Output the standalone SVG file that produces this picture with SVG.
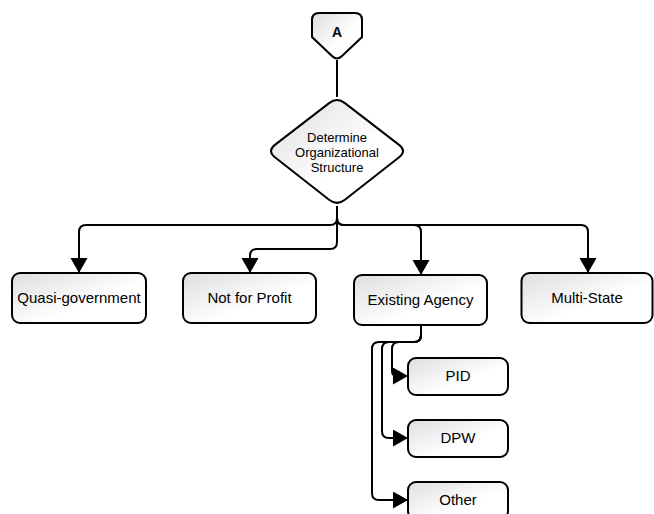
<svg xmlns="http://www.w3.org/2000/svg" width="654" height="514" viewBox="0 0 654 514">
<style>
.node{stroke:#000;stroke-width:2;fill:url(#g)}
.lbl{font-family:"Liberation Sans",Arial,sans-serif;font-size:15px;fill:#000;text-anchor:middle}
.dlbl{font-family:"Liberation Sans",Arial,sans-serif;font-size:13px;fill:#000;text-anchor:middle}
.conn{fill:none;stroke:#000;stroke-width:2}
.arr{marker-end:url(#ah)}
</style>
<defs>
<linearGradient id="g" x1="0" y1="0" x2="1" y2="1">
<stop offset="0" stop-color="#dedede"/>
<stop offset="0.6" stop-color="#ffffff"/>
<stop offset="1" stop-color="#ffffff"/>
</linearGradient>
<marker id="ah" markerUnits="userSpaceOnUse" markerWidth="16" markerHeight="18" refX="15" refY="8.5" orient="auto">
<path d="M0,0 L15,8.5 L0,17 z" fill="#000"/>
</marker>
</defs>
<rect width="654" height="514" fill="#fff"/>
<g id="connectors">
<path class="conn" d="M337,60 V97"/>
<path class="conn arr" d="M337,206 V218 Q337,225 330,225 H86 Q79,225 79,232 V273"/>
<path class="conn arr" d="M337,206 V242 Q337,249 330,249 H257 Q250,249 250,256 V273"/>
<path class="conn arr" d="M337,206 V218 Q337,225 344,225 H414 Q421,225 421,232 V275"/>
<path class="conn arr" d="M337,206 V218 Q337,225 344,225 H581 Q588,225 588,232 V273"/>
<path class="conn arr" d="M421,325 V335 Q421,342 414,342 H399 Q392,342 392,349 V371 Q392,376 397,376 H408"/>
<path class="conn arr" d="M421,325 V335 Q421,342 414,342 H389 Q382,342 382,349 V431 Q382,438 389,438 H408"/>
<path class="conn arr" d="M421,325 V335 Q421,342 414,342 H379 Q372,342 372,349 V493 Q372,500 379,500 H408"/>
</g>
<g id="nodeA">
<path class="node" d="M312,20 Q312,13 319,13 H355 Q362,13 362,20 V37 L342,56 Q337,61 332,56 L312,37 Z"/>
<text x="337" y="37" class="lbl" style="font-weight:bold;font-size:14px">A</text>
</g>
<g id="decision">
<path class="node" d="M329.1,103.1 Q337,97 344.9,103.1 L399.1,144.9 Q407,151 399.1,157.2 L344.9,199.8 Q337,206 329.1,199.8 L274.9,157.2 Q267,151 274.9,144.9 Z"/>
<text class="dlbl" x="337" y="141.5">Determine</text>
<text class="dlbl" x="337" y="156.5">Organizational</text>
<text class="dlbl" x="337" y="171.5">Structure</text>
</g>
<g id="quasi">
<rect class="node" x="12" y="273" width="134" height="50" rx="8"/>
<text class="lbl" x="79" y="303">Quasi-government</text>
</g>
<g id="nfp">
<rect class="node" x="183" y="273" width="133" height="50" rx="8"/>
<text class="lbl" x="249.5" y="303">Not for Profit</text>
</g>
<g id="existing">
<rect class="node" x="354" y="275" width="133" height="50" rx="8"/>
<text class="lbl" x="420.5" y="305">Existing Agency</text>
</g>
<g id="multistate">
<rect class="node" x="521.5" y="273" width="131" height="50" rx="8"/>
<text class="lbl" x="587" y="303">Multi-State</text>
</g>
<g id="pid">
<rect class="node" x="408" y="358" width="100" height="37" rx="8"/>
<text class="lbl" x="458" y="381">PID</text>
</g>
<g id="dpw">
<rect class="node" x="408" y="420" width="100" height="37" rx="8"/>
<text class="lbl" x="458" y="443">DPW</text>
</g>
<g id="other">
<rect class="node" x="408" y="482" width="100" height="37" rx="8"/>
<text class="lbl" x="458" y="505">Other</text>
</g>
</svg>
